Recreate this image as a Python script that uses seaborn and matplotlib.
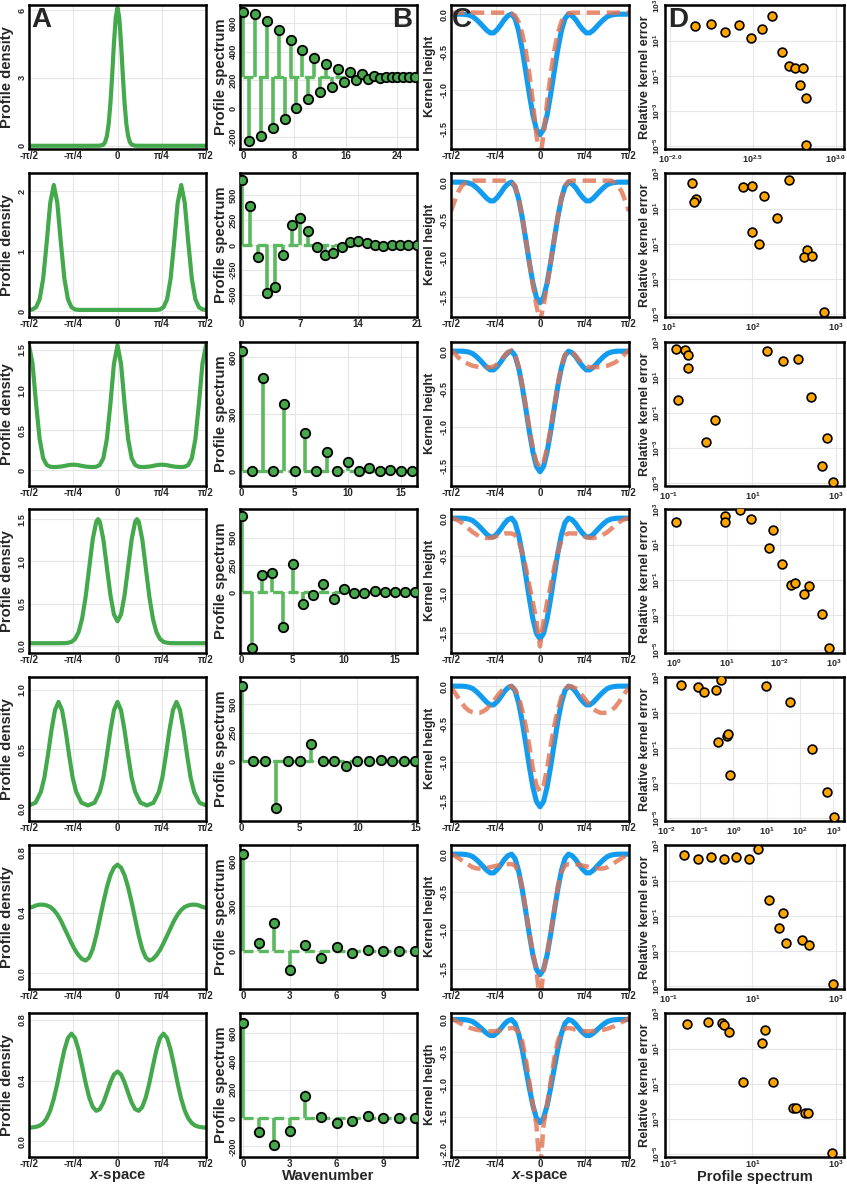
import matplotlib
matplotlib.use("Agg")
import matplotlib.pyplot as plt
import seaborn as sns

# ---------------- data ----------------
# x positions are in units of pi (tick -pi/2 ... pi/2)
G = [-0.50,-0.48,-0.46,-0.44,-0.42,-0.40,-0.38,-0.36,-0.34,-0.32,-0.30,-0.28,-0.26,-0.24,-0.22,-0.20,-0.18,-0.16,-0.14,-0.12,-0.10,-0.08,-0.06,-0.04,-0.02,
     0.00,0.02,0.04,0.06,0.08,0.10,0.12,0.14,0.16,0.18,0.20,0.22,0.24,0.26,0.28,0.30,0.32,0.34,0.36,0.38,0.40,0.42,0.44,0.46,0.48,0.50]

X_A1 = [-0.5,-0.3,-0.15,-0.1,-0.08,-0.07,-0.06,-0.05,-0.04,-0.03,-0.02,-0.01,0,0.01,0.02,0.03,0.04,0.05,0.06,0.07,0.08,0.1,0.15,0.3,0.5]
Y_A1 = [0,0,0,0.004,0.05,0.16,0.43,0.96,1.87,3.13,4.54,5.66,6.10,5.66,4.54,3.13,1.87,0.96,0.43,0.16,0.05,0.004,0,0,0]

Y_A2 = [0.02,0.028,0.064,0.196,0.539,1.142,1.803,2.10,1.803,1.142,0.539,0.196,0.064,0.028,
        0.02,0.02,0.02,0.02,0.02,0.02,0.02,0.02,0.02,0.02,0.02,0.02,0.02,0.02,0.02,0.02,0.02,0.02,0.02,0.02,0.02,0.02,0.02,
        0.028,0.064,0.196,0.539,1.142,1.803,2.10,1.803,1.142,0.539,0.196,0.064,0.028,0.02]

Y_A3 = [1.56,1.33,0.83,0.39,0.15,0.066,0.044,0.04,0.042,0.046,0.054,0.063,0.069,0.069,0.063,0.054,0.046,0.042,0.04,0.044,0.066,0.15,0.39,0.83,1.33,
        1.56,1.33,0.83,0.39,0.15,0.066,0.044,0.04,0.042,0.046,0.054,0.063,0.069,0.069,0.063,0.054,0.046,0.042,0.04,0.044,0.066,0.15,0.39,0.83,1.33,1.56]

X_A4 = [-0.5,-0.45,-0.4,-0.35,-0.3,-0.28,-0.26,-0.24,-0.22,-0.2,-0.18,-0.16,-0.14,-0.12,-0.11,-0.1,-0.08,-0.06,-0.04,-0.02,0,
        0.02,0.04,0.06,0.08,0.1,0.11,0.12,0.14,0.16,0.18,0.2,0.22,0.24,0.26,0.28,0.3,0.35,0.4,0.45,0.5]
Y_A4 = [0.03,0.03,0.03,0.03,0.031,0.035,0.046,0.08,0.16,0.32,0.58,0.92,1.26,1.47,1.50,1.47,1.26,0.93,0.60,0.37,0.29,
        0.37,0.60,0.93,1.26,1.47,1.50,1.47,1.26,0.92,0.58,0.32,0.16,0.08,0.046,0.035,0.031,0.03,0.03,0.03,0.03]

X_A5 = [-0.5,-0.4633,-0.4333,-0.4133,-0.3933,-0.3733,-0.3533,-0.3333,-0.3133,-0.2933,-0.2733,-0.2533,-0.2333,-0.2033,-0.1667,-0.13,-0.1,-0.08,-0.06,-0.04,-0.02,0,
        0.02,0.04,0.06,0.08,0.1,0.13,0.1667,0.2033,0.2333,0.2533,0.2733,0.2933,0.3133,0.3333,0.3533,0.3733,0.3933,0.4133,0.4333,0.4633,0.5]
Y_A5 = [0.027,0.05,0.14,0.26,0.45,0.66,0.83,0.90,0.83,0.66,0.45,0.26,0.14,0.05,0.027,0.05,0.14,0.26,0.45,0.66,0.83,0.90,
        0.83,0.66,0.45,0.26,0.14,0.05,0.027,0.05,0.14,0.26,0.45,0.66,0.83,0.90,0.83,0.66,0.45,0.26,0.14,0.05,0.027]

Y_A6 = [0.435,0.44,0.45,0.455,0.455,0.45,0.44,0.42,0.39,0.35,0.30,0.25,0.20,0.155,0.12,0.095,0.085,0.105,0.16,0.25,0.36,0.47,0.57,0.65,0.70,
        0.72,0.70,0.65,0.57,0.47,0.36,0.25,0.16,0.105,0.085,0.095,0.12,0.155,0.20,0.25,0.30,0.35,0.39,0.42,0.44,0.45,0.455,0.455,0.45,0.44,0.435]

Y_A7 = [0.09,0.092,0.096,0.103,0.12,0.151,0.203,0.28,0.381,0.497,0.603,0.681,0.71,0.681,0.603,0.497,0.385,0.29,0.227,0.201,0.212,0.255,0.32,0.388,0.441,
        0.46,0.441,0.388,0.32,0.255,0.212,0.201,0.227,0.29,0.385,0.497,0.603,0.681,0.71,0.681,0.603,0.497,0.381,0.28,0.203,0.151,0.12,0.103,0.096,0.092,0.09]

# Column B: stem spectra (row 1 positions)
K1 = [0,0.93,1.85,2.78,3.70,4.63,5.55,6.48,7.40,8.33,9.25,10.18,11.10,12.03,12.95,13.88,14.80,15.73,16.65,17.58,
      18.50,19.43,20.35,21.28,22.20,23.13,24.05,24.98,25.90,26.83]
B1 = [682,-231,666,-195,619,-141,553,-71,482,0,412,64,358,115,313,153,278,184,254,200,242,205,231,212,224,219,221,221,221,221]
K2 = list(range(22))
B2 = [657,393,-123,-477,-423,-100,197,267,143,-23,-100,-80,-20,30,40,23,0,-5,-3,0,0,0]
K3 = list(range(17))
B3 = [630,0,490,0,355,0,200,0,100,0,50,0,20,0,8,0,3]
K4 = list(range(18))
B4 = [693,-512,153,178,-319,255,-107,-25,77,-67,31,-6,-12,15,-3,0,0,0]
K5 = list(range(16))
B5 = [660,0,0,-410,0,0,151,0,0,-44,0,0,12,0,0,0]
K6 = list(range(12))
B6 = [650,54,189,-128,41,-47,27,-14,7,0,0,0]
K7 = list(range(12))
B7 = [670,-101,-193,-94,158,5,-38,-24,12,-2,-2,-2]
B_BASE = [220, 0, 0, 0, 0, 0, 0]

# Column C: target kernel (blue) and reconstructed kernels (salmon)
C_BLUE = [0.0,0.0,0.0,0.0,-0.004,-0.012,-0.03,-0.065,-0.11,-0.16,-0.21,-0.245,-0.245,-0.20,-0.14,-0.07,-0.02,0.0,-0.06,-0.22,-0.46,-0.75,-1.05,-1.32,-1.51,
          -1.58,-1.51,-1.32,-1.05,-0.75,-0.46,-0.22,-0.06,0.0,-0.02,-0.07,-0.14,-0.20,-0.245,-0.245,-0.21,-0.16,-0.11,-0.065,-0.03,-0.012,-0.004,0.0,0.0,0.0,0.0]
S1 = [0.02,0.02,0.02,0.02,0.02,0.02,0.02,0.02,0.02,0.02,0.02,0.02,0.02,0.02,0.02,0.02,0.02,0.01,-0.02,-0.10,-0.25,-0.48,-0.78,-1.15,-1.58,
      -1.90,-1.58,-1.15,-0.78,-0.48,-0.25,-0.10,-0.02,0.01,0.02,0.02,0.02,0.02,0.02,0.02,0.02,0.02,0.02,0.02,0.02,0.02,0.02,0.02,0.02,0.02,0.02]
S2 = [-0.38,-0.25,-0.13,-0.05,-0.01,0.02,0.02,0.02,0.02,0.02,0.02,0.02,0.02,0.02,0.02,0.02,0.02,0.01,-0.05,-0.21,-0.45,-0.74,-1.05,-1.35,-1.62,
      -1.82,-1.62,-1.35,-1.05,-0.74,-0.45,-0.21,-0.05,0.01,0.02,0.02,0.02,0.02,0.02,0.02,0.02,0.02,0.02,0.02,0.02,0.02,-0.01,-0.05,-0.13,-0.25,-0.38]
S3 = [0.02,-0.03,-0.08,-0.12,-0.15,-0.17,-0.19,-0.20,-0.21,-0.21,-0.21,-0.21,-0.20,-0.17,-0.12,-0.06,-0.01,0.01,-0.05,-0.20,-0.44,-0.72,-1.01,-1.27,-1.45,
      -1.52,-1.45,-1.27,-1.01,-0.72,-0.44,-0.20,-0.05,0.01,-0.01,-0.06,-0.12,-0.17,-0.20,-0.21,-0.21,-0.21,-0.21,-0.20,-0.19,-0.17,-0.15,-0.12,-0.08,-0.03,0.02]
S4 = [0.0,-0.01,-0.03,-0.06,-0.10,-0.14,-0.18,-0.21,-0.24,-0.25,-0.26,-0.26,-0.25,-0.23,-0.21,-0.20,-0.20,-0.20,-0.22,-0.30,-0.45,-0.64,-0.88,-1.10,-1.35,
      -1.68,-1.35,-1.10,-0.88,-0.64,-0.45,-0.30,-0.22,-0.20,-0.20,-0.20,-0.21,-0.23,-0.25,-0.26,-0.26,-0.25,-0.24,-0.21,-0.18,-0.14,-0.10,-0.06,-0.03,-0.01,0.0]
S5 = [-0.02,-0.08,-0.15,-0.22,-0.28,-0.32,-0.34,-0.35,-0.35,-0.33,-0.30,-0.25,-0.19,-0.13,-0.07,-0.03,-0.005,0.0,-0.04,-0.14,-0.31,-0.52,-0.78,-1.08,-1.30,
      -1.38,-1.30,-1.08,-0.78,-0.52,-0.31,-0.14,-0.04,0.0,-0.005,-0.03,-0.07,-0.13,-0.19,-0.25,-0.30,-0.33,-0.35,-0.35,-0.34,-0.32,-0.28,-0.22,-0.15,-0.08,-0.02]
S6 = [0.0,-0.02,-0.05,-0.08,-0.11,-0.14,-0.17,-0.185,-0.19,-0.185,-0.18,-0.17,-0.16,-0.15,-0.14,-0.13,-0.13,-0.13,-0.15,-0.24,-0.43,-0.73,-1.03,-1.30,-1.52,
      -1.95,-1.52,-1.30,-1.03,-0.73,-0.43,-0.24,-0.15,-0.13,-0.13,-0.13,-0.14,-0.15,-0.16,-0.17,-0.18,-0.185,-0.19,-0.185,-0.17,-0.14,-0.11,-0.08,-0.05,-0.02,0.0]
S7 = [0.02,-0.01,-0.04,-0.07,-0.10,-0.12,-0.14,-0.155,-0.165,-0.17,-0.175,-0.18,-0.18,-0.175,-0.165,-0.155,-0.14,-0.13,-0.14,-0.20,-0.33,-0.60,-0.95,-1.30,-1.62,
      -2.35,-1.62,-1.30,-0.95,-0.60,-0.33,-0.20,-0.14,-0.13,-0.14,-0.155,-0.165,-0.175,-0.18,-0.18,-0.175,-0.17,-0.165,-0.155,-0.14,-0.12,-0.10,-0.07,-0.04,-0.01,0.02]

# Column D: relative kernel error vs profile spectrum
D1x = [142,178,216,262,309,361,415,471,519,569,638,610,659,665]
D1y = [72,94,34,86,15.5,48.5,281,2.35,0.39,0.30,0.31,0.031,0.0053,1.25e-5]
D2x = [18.7,21.1,20.1,78,100,139,196,98,121,273,457,421,525,724]
D2y = [306,38.9,24.0,173,215,57.8,3.06,0.485,0.1045,474,0.0435,0.0181,0.0197,1.3e-5]
D3x = [0.145,0.242,0.291,0.291,0.167,1.27,0.759,22.1,55.5,122,256,631,461,847]
D3y = [451,394,222,37.8,0.587,0.0412,0.00222,330,95.7,130,0.875,0.00394,1.0e-4,1.14e-5]
D4x = [1.107,9.31,9.31,17.8,28.2,72.9,63.1,107,161,191,355,282,604,841]
D4y = [222,431,203,1047,302,73.3,6.43,0.875,0.0562,0.0671,0.0492,0.0163,0.00114,1.36e-5]
D5x = [0.0269,0.0851,0.135,0.295,0.417,0.339,0.631,0.708,0.794,9.55,51.3,224,631,1072]
D5y = [381,306,152,197,736,0.230,0.465,0.659,0.00299,365,42.6,0.0916,3.06e-4,1.25e-5]
D6x = [0.229,0.488,1.02,2.09,4.06,8.32,13.4,25.6,53.5,44.5,63.1,153,229,847]
D6y = [300,195,252,187,242,179,650,0.824,0.161,0.0222,0.00306,0.00414,0.00226,1.41e-5]
D7x = [0.275,0.879,1.84,2.09,2.81,20.1,16.7,5.86,31.9,96.4,110,184,221,832]
D7y = [269,334,293,235,97.7,122,21.1,0.136,0.124,0.00407,0.00407,0.0024,0.0024,1.19e-5]

# tick labels
PI_TICKS = [-0.5, -0.25, 0, 0.25, 0.5]
PI_LABELS = ['-\u03c0/2', '-\u03c0/4', '0', '\u03c0/4', '\u03c0/2']

A_X = [X_A1, G, G, X_A4, X_A5, G, G]
A_Y = [Y_A1, Y_A2, Y_A3, Y_A4, Y_A5, Y_A6, Y_A7]
A_YLIM = [(-0.12, 6.22), (-0.09, 2.3), (-0.19, 1.6), (-0.08, 1.62), (-0.1, 1.11), (-0.1, 0.85), (-0.1, 0.846)]
A_YT = [[0, 3, 6], [0, 1, 2], [0, 0.5, 1.0, 1.5], [0.0, 0.5, 1.0, 1.5], [0.0, 0.5, 1.0], [0.0, 0.4, 0.8], [0.0, 0.4, 0.8]]
A_YL = [['0', '3', '6'], ['0', '1', '2'], ['0', '0.5', '1.0', '1.5'], ['0.0', '0.5', '1.0', '1.5'],
        ['0.0', '0.5', '1.0'], ['0.0', '0.4', '0.8'], ['0.0', '0.4', '0.8']]

B_K = [K1, K2, K3, K4, K5, K6, K7]
B_V = [B1, B2, B3, B4, B5, B6, B7]
B_XLIM = [(-0.47, 27.1), (-0.2, 21.05), (-0.15, 16.5), (-0.16, 17.15), (-0.15, 15.15), (-0.2, 11.15), (-0.2, 11.15)]
B_XT = [[0, 8, 16, 24], [0, 7, 14, 21], [0, 5, 10, 15], [0, 5, 10, 15], [0, 5, 10, 15], [0, 3, 6, 9], [0, 3, 6, 9]]
B_YLIM = [(-282, 729), (-717, 723), (-74, 679), (-552, 761), (-517, 738), (-250, 709), (-271, 741)]
B_YT = [[-200, 0, 200, 400, 600], [-500, -250, 0, 250, 500], [0, 300, 600], [0, 250, 500], [0, 250, 500],
        [0, 300, 600], [-200, 0, 200, 400, 600]]

C_S = [S1, S2, S3, S4, S5, S6, S7]
C_YLIM = [(-1.76, 0.12)] * 6 + [(-2.1, 0.1)]
C_YT = [[0.0, -0.5, -1.0, -1.5]] * 6 + [[0.0, -0.5, -1.0, -1.5, -2.0]]
C_YL = [['0.0', '-0.5', '-1.0', '-1.5']] * 6 + [['0.0', '-0.5', '-1.0', '-1.5', '-2.0']]

D_X = [D1x, D2x, D3x, D4x, D5x, D6x, D7x]
D_Y = [D1y, D2y, D3y, D4y, D5y, D6y, D7y]
D_XLIM = [(93.3, 1122), (8.96, 1259), (0.0802, 1585), (0.698, 1585), (0.0089, 2089), (0.0802, 1585), (0.0802, 1585)]
D_XT = [[100, 316.23, 1000], [10, 100, 1000], [0.1, 10, 1000], [1, 10, 100, 1000],
        [0.01, 0.1, 1, 10, 100, 1000], [0.1, 10, 1000], [0.1, 10, 1000]]
D_XL = [[r'$10^{-2.0}$', r'$10^{2.5}$', r'$10^{3.0}$'],
        [r'$10^{1}$', r'$10^{2}$', r'$10^{3}$'],
        [r'$10^{-1}$', r'$10^{1}$', r'$10^{3}$'],
        [r'$10^{0}$', r'$10^{1}$', r'$10^{-2}$', r'$10^{3}$'],
        [r'$10^{-2}$', r'$10^{-1}$', r'$10^{0}$', r'$10^{1}$', r'$10^{2}$', r'$10^{3}$'],
        [r'$10^{-1}$', r'$10^{1}$', r'$10^{3}$'],
        [r'$10^{-1}$', r'$10^{1}$', r'$10^{3}$']]
D_YT = [1e-5, 1e-3, 1e-1, 1e1, 1e3]
D_YL = [r'$10^{-5}$', r'$10^{-3}$', r'$10^{-1}$', r'$10^{1}$', r'$10^{3}$']

# ---------------- style ----------------
sns.set_theme(style="whitegrid")
plt.rcParams.update({
    "font.family": ["Liberation Sans", "DejaVu Sans"],
    "font.weight": "bold",
    "axes.labelweight": "bold",
    "axes.edgecolor": "black",
    "axes.linewidth": 1.8,
    "grid.color": "#e6e6e6",
    "grid.linewidth": 0.8,
    "xtick.labelsize": 7,
    "ytick.labelsize": 6.6,
    "mathtext.fontset": "custom",
    "mathtext.rm": "Liberation Sans:bold",
    "mathtext.bf": "Liberation Sans:bold",
    "mathtext.it": "Liberation Sans:italic:bold",
    "mathtext.default": "rm",
})

GREEN = "#44a84c"
STEM = "#5cb85f"
BLUE = "#129cf0"
SALMON = "#e0714f"
ORANGE = "#ffa500"

W, H = 847, 1184
fig = plt.figure(figsize=(W / 100, H / 100), dpi=100)
ROW_TOP = [5, 173, 342, 509, 677, 845, 1013]
AX_H = 143.5
COL_LEFT = [29, 240, 451, 665]
COL_W = [177, 177, 178, 179]
XLAB_Y = -0.085


def make_ax(r, c):
    left = COL_LEFT[c] / W
    bottom = 1 - (ROW_TOP[r] + AX_H) / H
    ax = fig.add_axes([left, bottom, COL_W[c] / W, AX_H / H])
    ax.tick_params(length=0, pad=1.6)
    for s in ax.spines.values():
        s.set_color("black")
        s.set_linewidth(1.8)
    ax.grid(True, color="#e6e6e6", lw=0.8)
    ax.set_axisbelow(True)
    return ax


for r in range(7):
    # ---- A: profile density ----
    ax = make_ax(r, 0)
    sns.lineplot(x=A_X[r], y=A_Y[r], ax=ax, color=GREEN, linewidth=3.0,
                 estimator=None, sort=False, legend=False)
    ax.set_xlim(-0.5, 0.5)
    ax.set_ylim(*A_YLIM[r])
    ax.set_xticks(PI_TICKS, PI_LABELS)
    ax.set_yticks(A_YT[r], A_YL[r], rotation=90, va="center")
    ax.set_ylabel("Profile density", fontsize=10.6)
    ax.yaxis.set_label_coords(-0.085, 0.5)
    ax.set_xlabel("")
    if r == 6:
        ax.set_xlabel(r"$\mathit{x}$-space", fontsize=10.7)
        ax.xaxis.set_label_coords(0.5, XLAB_Y)
    if r == 0:
        ax.text(0.015, 0.985, "A", transform=ax.transAxes, fontsize=20, fontweight="bold",
                va="top", ha="left")

    # ---- B: profile spectrum (stems) ----
    ax = make_ax(r, 1)
    k, v, base = B_K[r], B_V[r], B_BASE[r]
    ax.vlines(k, base, v, color=STEM, linewidth=2.6, zorder=2)
    ax.hlines(base, k[0], k[-1], color=STEM, linewidth=2.4, linestyles=(0, (3, 1.6)), zorder=2)
    sns.scatterplot(x=k, y=v, ax=ax, s=46, color="#47a84b", edgecolor="black",
                    linewidth=1.3, zorder=3, legend=False)
    ax.set_xlim(*B_XLIM[r])
    ax.set_ylim(*B_YLIM[r])
    ax.set_xticks(B_XT[r], [str(t) for t in B_XT[r]])
    ax.set_yticks(B_YT[r], [str(t) for t in B_YT[r]], rotation=90, va="center")
    ax.set_ylabel("Profile spectrum", fontsize=10.6)
    ax.yaxis.set_label_coords(-0.068, 0.5)
    ax.set_xlabel("")
    if r == 6:
        ax.set_xlabel("Wavenumber", fontsize=10.7)
        ax.xaxis.set_label_coords(0.5, XLAB_Y)
    if r == 0:
        ax.text(0.975, 0.985, "B", transform=ax.transAxes, fontsize=20, fontweight="bold",
                va="top", ha="right")

    # ---- C: kernel height ----
    ax = make_ax(r, 2)
    sns.lineplot(x=G, y=C_BLUE, ax=ax, color=BLUE, linewidth=3.7,
                 estimator=None, sort=False, legend=False)
    sns.lineplot(x=G, y=C_S[r], ax=ax, color=SALMON, linewidth=3.2, alpha=0.8,
                 linestyle=(0, (3, 1.5)), estimator=None, sort=False, legend=False)
    ax.set_xlim(-0.5, 0.5)
    ax.set_ylim(*C_YLIM[r])
    ax.set_xticks(PI_TICKS, PI_LABELS)
    ax.set_yticks(C_YT[r], C_YL[r], rotation=90, va="center")
    ax.set_ylabel("Kernel heigth" if r == 6 else "Kernel height", fontsize=9.2)
    ax.yaxis.set_label_coords(-0.085, 0.5)
    ax.set_xlabel("")
    if r == 6:
        ax.set_xlabel(r"$\mathit{x}$-space", fontsize=10.7)
        ax.xaxis.set_label_coords(0.5, XLAB_Y)
    if r == 0:
        ax.text(0.005, 0.985, "C", transform=ax.transAxes, fontsize=20, fontweight="bold",
                va="top", ha="left")

    # ---- D: relative kernel error ----
    ax = make_ax(r, 3)
    sns.scatterplot(x=D_X[r], y=D_Y[r], ax=ax, s=40, color=ORANGE, edgecolor="black",
                    linewidth=1.2, zorder=3, legend=False)
    ax.set_xscale("log")
    ax.set_yscale("log")
    ax.set_xlim(*D_XLIM[r])
    ax.set_ylim(7.4e-6, 1150)
    ax.minorticks_off()
    ax.set_xticks(D_XT[r], D_XL[r], fontsize=6.5)
    ax.set_yticks(D_YT, D_YL, rotation=90, va="center", fontsize=6.0)
    ax.minorticks_off()
    ax.tick_params(axis="x", pad=(1.4 if r == 6 else 3.6))
    ax.set_ylabel("Relative kernel error", fontsize=9.2)
    ax.yaxis.set_label_coords(-0.078, 0.5)
    ax.set_xlabel("")
    if r == 6:
        ax.set_xlabel("Profile spectrum", fontsize=10.5)
        ax.xaxis.set_label_coords(0.5, -0.091)
    if r == 0:
        ax.text(0.017, 0.985, "D", transform=ax.transAxes, fontsize=20, fontweight="bold",
                va="top", ha="left")

fig.savefig("out.png", dpi=100)
